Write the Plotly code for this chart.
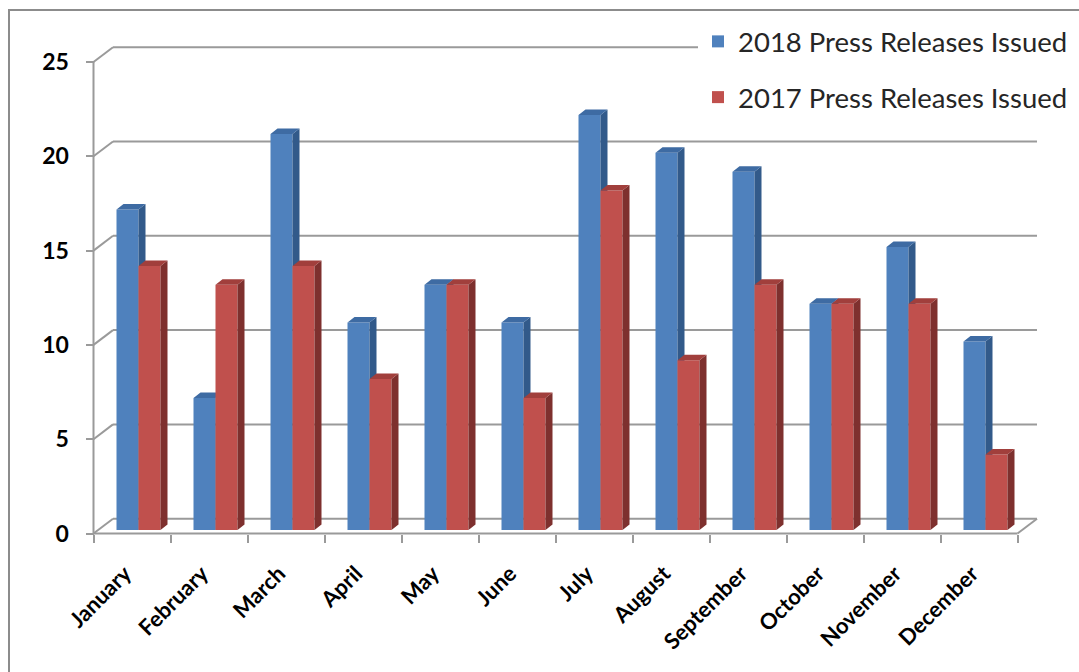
import plotly.graph_objects as go

# ---- data ----
months = ["January", "February", "March", "April", "May", "June", "July",
          "August", "September", "October", "November", "December"]
releases_2018 = [17, 7, 21, 11, 13, 11, 22, 20, 19, 12, 15, 10]
releases_2017 = [14, 13, 14, 8, 13, 7, 18, 9, 13, 12, 12, 4]
series_names = ["2018 Press Releases Issued", "2017 Press Releases Issued"]
y_ticks = [0, 5, 10, 15, 20, 25]

# ---- geometry (pixels) ----
W, H = 1079, 672
X0_PX, CAT_PX = 93.5, 77.0        # left edge of first category, width per category
Y0_PX, UNIT_PX = 533.5, 18.86     # pixel row of value 0, pixels per unit
BAR_DX_PX, BAR_DY_PX = 6.5, 3.5   # bar plane offset inside the 3-D box
WALL_DX_PX, WALL_DY_PX = 19.5, 14.8
DEPTH_DX_PX, DEPTH_DY_PX = 7.0, 5.5

xr = [-0.5 - X0_PX / CAT_PX, -0.5 + (W - X0_PX) / CAT_PX]
yr = [-(H - Y0_PX) / UNIT_PX, Y0_PX / UNIT_PX]
bsx = BAR_DX_PX / CAT_PX
bsy = BAR_DY_PX / UNIT_PX
xr_bar = [xr[0] - bsx, xr[1] - bsx]
yr_bar = [yr[0] - bsy, yr[1] - bsy]
wdx, wdy = WALL_DX_PX / CAT_PX, WALL_DY_PX / UNIT_PX
ddx, ddy = DEPTH_DX_PX / CAT_PX, DEPTH_DY_PX / UNIT_PX
bar_w = 22.0 / CAT_PX

GRID = "#9a9a9a"
colors = {
    "front": ["#4F81BD", "#C0504D"],
    "side": ["#325A8A", "#7E302E"],
    "top": ["#3E6BA3", "#A13F3C"],
}

fig = go.Figure()

# invisible anchor trace so the category axis knows its months
fig.add_trace(go.Scatter(x=months, y=[0] * len(months), mode="markers",
                         marker=dict(opacity=0), showlegend=False,
                         hoverinfo="skip", xaxis="x", yaxis="y"))


def faces(values, offset):
    """Side and top faces of each column, drawn as filled polygons."""
    sx, sy, tx, ty = [], [], [], []
    for i, v in enumerate(values):
        xl = i + offset
        xrgt = xl + bar_w
        sx += [xrgt, xrgt + ddx, xrgt + ddx, xrgt, xrgt, None]
        sy += [0, ddy, v + ddy, v, 0, None]
        tx += [xl, xrgt, xrgt + ddx, xl + ddx, xl, None]
        ty += [v, v, v + ddy, v + ddy, v, None]
    return sx, sy, tx, ty


for k, (vals, off, ax) in enumerate([(releases_2018, -bar_w, ("x2", "y2")),
                                     (releases_2017, 0.0, ("x3", "y3"))]):
    fig.add_trace(go.Bar(
        x=list(range(len(months))), y=vals, width=bar_w, offset=off,
        name=series_names[k], marker=dict(color=colors["front"][k], line=dict(width=0)),
        xaxis=ax[0], yaxis=ax[1], hoverinfo="skip", legendgroup=str(k)))
    sx, sy, tx, ty = faces(vals, off)
    fig.add_trace(go.Scatter(x=sx, y=sy, mode="lines", fill="toself",
                             fillcolor=colors["side"][k], line=dict(width=0),
                             showlegend=False, hoverinfo="skip",
                             xaxis=ax[0], yaxis=ax[1]))
    fig.add_trace(go.Scatter(x=tx, y=ty, mode="lines", fill="toself",
                             fillcolor=colors["top"][k], line=dict(width=0),
                             showlegend=False, hoverinfo="skip",
                             xaxis=ax[0], yaxis=ax[1]))

# ---- walls, floor and gridlines ----
shapes = []
line = dict(color=GRID, width=2)
xa, xb = -0.5, len(months) - 0.5
for v in y_ticks:
    shapes.append(dict(type="line", xref="x", yref="y", x0=xa, y0=v,
                       x1=xa + wdx, y1=v + wdy, line=line, layer="below"))
    shapes.append(dict(type="line", xref="x", yref="y", x0=xa + wdx, y0=v + wdy,
                       x1=xb + wdx, y1=v + wdy, line=line, layer="below"))
shapes.append(dict(type="line", xref="x", yref="y", x0=xa, y0=0, x1=xa, y1=y_ticks[-1],
                   line=line, layer="below"))
shapes.append(dict(type="line", xref="x", yref="y", x0=xa, y0=0, x1=xb, y1=0,
                   line=line, layer="below"))
shapes.append(dict(type="line", xref="x", yref="y", x0=xb, y0=0, x1=xb + wdx, y1=wdy,
                   line=line, layer="below"))
# chart border
shapes.append(dict(type="rect", xref="paper", yref="paper",
                   x0=9 / W, x1=1.02, y0=-0.02, y1=1 - 10 / H,
                   line=dict(color="#8c8c8c", width=2), layer="below"))

axis_common = dict(showgrid=False, zeroline=False, fixedrange=True, automargin=False)
fig.update_layout(
    width=W, height=H,
    margin=dict(l=0, r=0, t=0, b=0, pad=0),
    paper_bgcolor="white", plot_bgcolor="rgba(0,0,0,0)",
    barmode="overlay",
    shapes=shapes,
    xaxis=dict(type="category", categoryorder="array", categoryarray=months,
               range=xr, anchor="free", position=(H - Y0_PX) / H,
               tickson="boundaries", ticks="outside", ticklen=8, tickwidth=2,
               tickcolor=GRID, showline=False, tickangle=-45,
               tickfont=dict(family="Lato", size=22, color="black", weight="bold"),
               ticklabelstandoff=22, ticklabelshift=-7, **axis_common),
    yaxis=dict(range=yr, anchor="free", position=X0_PX / W,
               tickvals=y_ticks, ticks="outside", ticklen=8, tickwidth=2,
               tickcolor=GRID, showline=False,
               tickfont=dict(family="Lato", size=23, color="black", weight="bold"),
               ticklabelstandoff=12, **axis_common),
    xaxis2=dict(range=xr_bar, overlaying="x", visible=False, **axis_common),
    yaxis2=dict(range=yr_bar, overlaying="y", visible=False, **axis_common),
    xaxis3=dict(range=xr_bar, overlaying="x", visible=False, **axis_common),
    yaxis3=dict(range=yr_bar, overlaying="y", visible=False, **axis_common),
    legend=dict(x=698 / W, y=1 - 17 / H, xanchor="left", yanchor="top",
                bgcolor="white", borderwidth=0, tracegroupgap=17,
                traceorder="grouped",
                font=dict(family="Lato", size=27.5, color="#262626")),
    showlegend=True,
)

fig.write_html("out.html")
